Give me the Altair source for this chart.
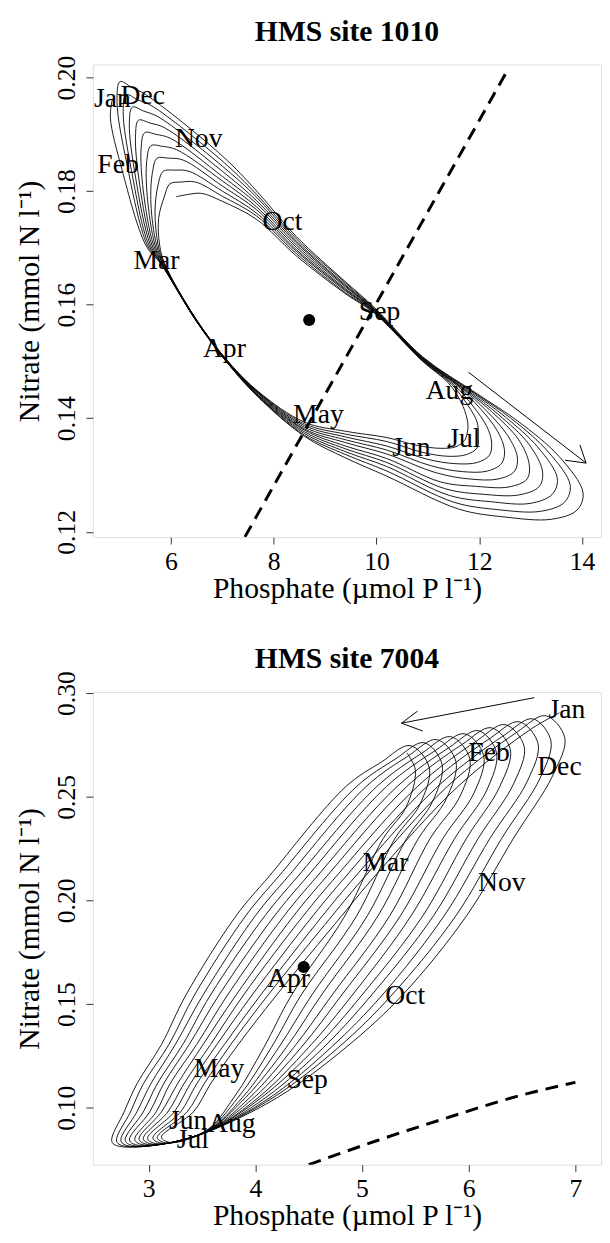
import altair as alt
import pandas as pd

FONT = "Liberation Serif"
MONTHS = ["Jan", "Feb", "Mar", "Apr", "May", "Jun", "Jul", "Aug", "Sep", "Oct", "Nov", "Dec"]
X_TITLE = "Phosphate (\u00b5mol P l\u207b\u00b9)"
Y_TITLE = "Nitrate (mmol N l\u207b\u00b9)"
PLOT_W = 515
PLOT_H = 479

# ================= HMS site 1010 : spiral stations (one value per revolution, inner -> outer)
A_TIP_X = [6.10, 5.98, 5.85, 5.73, 5.61, 5.49, 5.37, 5.25, 5.13, 5.01]
A_TIP_Y = [0.1790, 0.1813, 0.1835, 0.1858, 0.1880, 0.1903, 0.1925, 0.1948, 0.1970, 0.1993]
A_T1_X = [6.32, 6.20, 6.07, 5.95, 5.83, 5.71, 5.59, 5.47, 5.35, 5.23]
A_T1_Y = [0.1794, 0.1816, 0.1837, 0.1858, 0.1879, 0.1900, 0.1920, 0.1941, 0.1961, 0.1983]
A_DEC_X = [6.60, 6.48, 6.35, 6.23, 6.11, 5.99, 5.87, 5.75, 5.63, 5.51]
A_DEC_Y = [0.1796, 0.1816, 0.1835, 0.1855, 0.1873, 0.1893, 0.1912, 0.1931, 0.1950, 0.1970]
A_NOV_X = [7.00, 7.00, 7.00, 7.00, 7.00, 7.00, 7.00, 7.00, 7.00, 7.00]
A_NOV_Y = [0.1782, 0.1791, 0.1800, 0.1809, 0.1818, 0.1826, 0.1835, 0.1844, 0.1853, 0.1862]
A_OC1_X = [7.67, 7.67, 7.67, 7.67, 7.67, 7.67, 7.67, 7.67, 7.67, 7.67]
A_OC1_Y = [0.1750, 0.1756, 0.1761, 0.1767, 0.1772, 0.1778, 0.1783, 0.1789, 0.1794, 0.1800]
A_OC2_X = [8.44, 8.44, 8.44, 8.44, 8.44, 8.44, 8.44, 8.44, 8.44, 8.44]
A_OC2_Y = [0.1686, 0.1690, 0.1694, 0.1697, 0.1701, 0.1705, 0.1709, 0.1712, 0.1716, 0.1720]
A_SP1_X = [9.40, 9.40, 9.40, 9.40, 9.40, 9.40, 9.40, 9.40, 9.40, 9.40]
A_SP1_Y = [0.1619, 0.1621, 0.1624, 0.1626, 0.1628, 0.1631, 0.1633, 0.1635, 0.1638, 0.1640]
A_SP2_X = [9.96, 9.96, 9.96, 9.96, 9.96, 9.96, 9.96, 9.96, 9.96, 9.96]
A_SP2_Y = [0.1585, 0.1586, 0.1587, 0.1588, 0.1589, 0.1590, 0.1591, 0.1592, 0.1593, 0.1595]
A_AUG_X = [10.90, 10.90, 10.90, 10.90, 10.90, 10.90, 10.90, 10.90, 10.90, 10.90]
A_AUG_Y = [0.1500, 0.1501, 0.1502, 0.1503, 0.1504, 0.1504, 0.1505, 0.1506, 0.1507, 0.1508]
A_UA_X = [11.40, 11.46, 11.52, 11.59, 11.65, 11.71, 11.77, 11.84, 11.90, 11.96]
A_UA_Y = [0.1462, 0.1460, 0.1458, 0.1456, 0.1454, 0.1451, 0.1449, 0.1447, 0.1445, 0.1443]
A_UB_X = [11.65, 11.77, 11.89, 12.02, 12.14, 12.26, 12.38, 12.51, 12.63, 12.75]
A_UB_Y = [0.1428, 0.1424, 0.1420, 0.1417, 0.1413, 0.1410, 0.1406, 0.1402, 0.1399, 0.1395]
A_UC_X = [11.76, 11.96, 12.15, 12.35, 12.55, 12.76, 12.96, 13.15, 13.35, 13.55]
A_UC_Y = [0.1400, 0.1393, 0.1385, 0.1378, 0.1370, 0.1363, 0.1355, 0.1348, 0.1340, 0.1333]
A_UD_X = [11.78, 11.98, 12.24, 12.49, 12.74, 12.97, 13.23, 13.52, 13.77, 14.02]
A_UD_Y = [0.1383, 0.1370, 0.1358, 0.1345, 0.1332, 0.1320, 0.1307, 0.1294, 0.1282, 0.1269]
A_UE_X = [11.72, 11.96, 12.20, 12.44, 12.69, 12.93, 13.17, 13.42, 13.66, 13.90]
A_UE_Y = [0.1362, 0.1348, 0.1335, 0.1321, 0.1307, 0.1293, 0.1280, 0.1266, 0.1252, 0.1238]
A_UF_X = [11.55, 11.75, 11.96, 12.16, 12.37, 12.58, 12.78, 12.99, 13.19, 13.40]
A_UF_Y = [0.1350, 0.1336, 0.1322, 0.1307, 0.1293, 0.1279, 0.1265, 0.1250, 0.1236, 0.1222]
A_UG_X = [11.25, 11.39, 11.53, 11.67, 11.81, 11.94, 12.08, 12.22, 12.36, 12.50]
A_UG_Y = [0.1347, 0.1333, 0.1320, 0.1306, 0.1293, 0.1280, 0.1266, 0.1253, 0.1239, 0.1226]
A_UH_X = [10.80, 10.89, 10.98, 11.07, 11.16, 11.24, 11.33, 11.42, 11.51, 11.60]
A_UH_Y = [0.1352, 0.1340, 0.1328, 0.1316, 0.1304, 0.1288, 0.1276, 0.1264, 0.1252, 0.1240]
A_B2_X = [10.20, 10.20, 10.20, 10.20, 10.20, 10.20, 10.20, 10.20, 10.20, 10.20]
A_B2_Y = [0.1366, 0.1359, 0.1351, 0.1344, 0.1337, 0.1329, 0.1322, 0.1315, 0.1307, 0.1298]
A_B25_X = [9.40, 9.40, 9.40, 9.40, 9.40, 9.40, 9.40, 9.40, 9.40, 9.40]
A_B25_Y = [0.1377, 0.1372, 0.1367, 0.1362, 0.1357, 0.1351, 0.1346, 0.1341, 0.1336, 0.1330]
A_B3_X = [8.60, 8.60, 8.60, 8.60, 8.60, 8.60, 8.60, 8.60, 8.60, 8.60]
A_B3_Y = [0.1393, 0.1390, 0.1387, 0.1384, 0.1381, 0.1379, 0.1376, 0.1373, 0.1370, 0.1368]
A_B4_X = [7.70, 7.70, 7.70, 7.70, 7.70, 7.70, 7.70, 7.70, 7.70, 7.70]
A_B4_Y = [0.1447, 0.1446, 0.1445, 0.1444, 0.1443, 0.1441, 0.1440, 0.1439, 0.1438, 0.1437]
A_APR_X = [7.12, 7.12, 7.12, 7.12, 7.12, 7.12, 7.12, 7.12, 7.12, 7.12]
A_APR_Y = [0.1499, 0.1499, 0.1498, 0.1498, 0.1497, 0.1497, 0.1496, 0.1496, 0.1495, 0.1495]
A_MID_X = [6.50, 6.50, 6.50, 6.50, 6.50, 6.50, 6.50, 6.50, 6.50, 6.50]
A_MID_Y = [0.1573, 0.1573, 0.1572, 0.1572, 0.1572, 0.1571, 0.1571, 0.1571, 0.1570, 0.1570]
A_MAR_X = [5.88, 5.87, 5.86, 5.85, 5.84, 5.83, 5.82, 5.82, 5.81, 5.80]
A_MAR_Y = [0.1672, 0.1672, 0.1672, 0.1672, 0.1672, 0.1672, 0.1672, 0.1672, 0.1672, 0.1672]
A_L1_X = [5.78, 5.75, 5.72, 5.69, 5.66, 5.63, 5.60, 5.57, 5.54, 5.51]
A_L1_Y = [0.1705, 0.1705, 0.1705, 0.1705, 0.1705, 0.1705, 0.1705, 0.1705, 0.1705, 0.1705]
A_L2_X = [5.76, 5.69, 5.61, 5.54, 5.46, 5.39, 5.31, 5.23, 5.14, 5.05]
A_L2_Y = [0.1752, 0.1765, 0.1778, 0.1790, 0.1802, 0.1812, 0.1825, 0.1837, 0.1849, 0.1837]
A_L3_X = [5.87, 5.75, 5.64, 5.53, 5.42, 5.31, 5.19, 5.07, 4.95, 4.82]
A_L3_Y = [0.1790, 0.1811, 0.1833, 0.1854, 0.1876, 0.1897, 0.1919, 0.1940, 0.1958, 0.1930]
A_END = [4.86, 0.1962]

A_LAB_X = [4.86, 4.97, 5.72, 7.04, 8.87, 10.68, 11.71, 11.42, 10.06, 8.17, 6.54, 5.45]
A_LAB_Y = [0.1962, 0.1846, 0.1677, 0.1521, 0.1405, 0.1347, 0.1363, 0.1447, 0.1587, 0.1746, 0.1892, 0.1968]
A_MEAN = [8.69, 0.1573]
A_START = [11.41, 0.1350]
A_DASH_X = [7.44, 12.55]
A_DASH_Y = [0.1191, 0.2013]
A_ARR_X = [11.79, 14.08, 14.08]
A_ARR_Y = [0.1481, 0.1321, 0.1321]
A_ARR_X2 = [14.08, 13.67, 13.96]
A_ARR_Y2 = [0.1321, 0.1326, 0.1353]
A_XTICKS = [6, 8, 10, 12, 14]
A_YTICKS = [0.12, 0.14, 0.16, 0.18, 0.20]
A_XDOM = [4.48, 14.37]
A_YDOM = [0.11905, 0.2023]

# ================= HMS site 7004 : spiral stations (one value per revolution, right -> left)
B_P_X = [6.85, 6.72, 6.60, 6.47, 6.34, 6.21, 6.09, 5.96, 5.83, 5.70, 5.58, 5.45]
B_P_Y = [0.2905, 0.2891, 0.2876, 0.2862, 0.2848, 0.2833, 0.2819, 0.2804, 0.2790, 0.2776, 0.2761, 0.2747]
B_LA_X = [6.58, 6.45, 6.33, 6.20, 6.07, 5.94, 5.82, 5.69, 5.56, 5.43, 5.31, 5.18]
B_LA_Y = [0.2825, 0.2811, 0.2796, 0.2782, 0.2768, 0.2753, 0.2739, 0.2724, 0.2710, 0.2696, 0.2681, 0.2667]
B_LB_X = [5.90, 5.80, 5.71, 5.61, 5.52, 5.42, 5.33, 5.23, 5.14, 5.04, 4.95, 4.85]
B_LB_Y = [0.2550, 0.2550, 0.2550, 0.2550, 0.2550, 0.2550, 0.2550, 0.2550, 0.2550, 0.2550, 0.2550, 0.2550]
B_LC_X = [5.12, 5.03, 4.94, 4.85, 4.76, 4.67, 4.58, 4.49, 4.40, 4.31, 4.22, 4.13]
B_LC_Y = [0.2117, 0.2117, 0.2117, 0.2117, 0.2117, 0.2117, 0.2117, 0.2117, 0.2117, 0.2117, 0.2117, 0.2117]
B_LD_X = [4.81, 4.72, 4.63, 4.54, 4.45, 4.36, 4.27, 4.18, 4.09, 4.00, 3.91, 3.82]
B_LD_Y = [0.1926, 0.1926, 0.1926, 0.1926, 0.1926, 0.1926, 0.1926, 0.1926, 0.1926, 0.1926, 0.1926, 0.1926]
B_LE_X = [4.20, 4.12, 4.05, 3.97, 3.89, 3.82, 3.74, 3.66, 3.58, 3.51, 3.43, 3.35]
B_LE_Y = [0.1544, 0.1544, 0.1544, 0.1544, 0.1544, 0.1544, 0.1544, 0.1544, 0.1544, 0.1544, 0.1544, 0.1544]
B_LF_X = [3.84, 3.77, 3.71, 3.64, 3.58, 3.51, 3.45, 3.38, 3.32, 3.25, 3.19, 3.12]
B_LF_Y = [0.1305, 0.1305, 0.1305, 0.1305, 0.1305, 0.1305, 0.1305, 0.1305, 0.1305, 0.1305, 0.1305, 0.1305]
B_LG_X = [3.58, 3.52, 3.45, 3.39, 3.33, 3.27, 3.20, 3.14, 3.08, 3.02, 2.95, 2.89]
B_LG_Y = [0.1115, 0.1115, 0.1115, 0.1115, 0.1115, 0.1115, 0.1115, 0.1115, 0.1115, 0.1115, 0.1115, 0.1115]
B_LH_X = [3.42, 3.36, 3.30, 3.24, 3.18, 3.12, 3.07, 3.01, 2.95, 2.89, 2.83, 2.77]
B_LH_Y = [0.0980, 0.0980, 0.0980, 0.0980, 0.0980, 0.0980, 0.0980, 0.0980, 0.0980, 0.0980, 0.0980, 0.0980]
B_TIP_X = [3.12, 3.08, 3.04, 2.99, 2.95, 2.91, 2.87, 2.82, 2.78, 2.74, 2.70, 2.655]
B_TIP_Y = [0.0858, 0.0856, 0.0854, 0.0852, 0.0850, 0.0848, 0.0846, 0.0844, 0.0842, 0.0840, 0.0838, 0.0836]
B_BOT_X = [3.21, 3.17, 3.13, 3.08, 3.04, 3.00, 2.96, 2.91, 2.87, 2.83, 2.79, 2.745]
B_BOT_Y = [0.0832, 0.0830, 0.0828, 0.0826, 0.0824, 0.0822, 0.0820, 0.0818, 0.0816, 0.0814, 0.0813, 0.0812]
B_CV_X = [3.56, 3.56, 3.55, 3.55, 3.54, 3.54, 3.53, 3.53, 3.52, 3.52, 3.51, 3.51]
B_CV_Y = [0.0885, 0.0885, 0.0884, 0.0884, 0.0883, 0.0883, 0.0882, 0.0882, 0.0881, 0.0881, 0.0880, 0.0880]
B_RA_X = [4.21, 4.17, 4.14, 4.10, 4.06, 4.03, 3.99, 3.95, 3.91, 3.88, 3.84, 3.80]
B_RA_Y = [0.1050, 0.1050, 0.1050, 0.1050, 0.1050, 0.1050, 0.1050, 0.1050, 0.1050, 0.1050, 0.1050, 0.1050]
B_RB_X = [4.85, 4.78, 4.71, 4.64, 4.57, 4.50, 4.43, 4.36, 4.29, 4.22, 4.15, 4.08]
B_RB_Y = [0.1291, 0.1291, 0.1291, 0.1291, 0.1291, 0.1291, 0.1291, 0.1291, 0.1291, 0.1291, 0.1291, 0.1291]
B_RC_X = [5.38, 5.28, 5.19, 5.09, 5.00, 4.91, 4.81, 4.72, 4.62, 4.53, 4.43, 4.34]
B_RC_Y = [0.1544, 0.1544, 0.1544, 0.1544, 0.1544, 0.1544, 0.1544, 0.1544, 0.1544, 0.1544, 0.1544, 0.1544]
B_RD_X = [5.98, 5.88, 5.77, 5.67, 5.57, 5.46, 5.36, 5.26, 5.15, 5.05, 4.95, 4.84]
B_RD_Y = [0.1926, 0.1926, 0.1926, 0.1926, 0.1926, 0.1926, 0.1926, 0.1926, 0.1926, 0.1926, 0.1926, 0.1926]
B_RE_X = [6.42, 6.31, 6.20, 6.09, 5.98, 5.87, 5.76, 5.64, 5.53, 5.42, 5.31, 5.20]
B_RE_Y = [0.2300, 0.2300, 0.2300, 0.2300, 0.2300, 0.2300, 0.2300, 0.2300, 0.2300, 0.2300, 0.2300, 0.2300]
B_RF_X = [6.79, 6.67, 6.55, 6.42, 6.29, 6.17, 6.05, 5.92, 5.79, 5.66, 5.54, 5.41]
B_RF_Y = [0.2605, 0.2591, 0.2576, 0.2562, 0.2548, 0.2533, 0.2519, 0.2504, 0.2490, 0.2476, 0.2461, 0.2447]
B_RG_X = [6.90, 6.77, 6.65, 6.52, 6.39, 6.26, 6.14, 6.01, 5.88, 5.75, 5.63, 5.50]
B_RG_Y = [0.2785, 0.2771, 0.2756, 0.2742, 0.2728, 0.2713, 0.2699, 0.2684, 0.2670, 0.2656, 0.2641, 0.2627]
B_END = [5.42, 0.2712]

B_LAB_X = [6.92, 6.19, 5.22, 4.31, 3.66, 3.37, 3.415, 3.78, 4.485, 5.405, 6.31, 6.85]
B_LAB_Y = [0.2916, 0.2710, 0.2179, 0.1620, 0.1186, 0.0933, 0.0844, 0.0920, 0.1131, 0.1540, 0.2083, 0.2642]
B_MEAN = [4.453, 0.1679]
B_DASH_X = [4.50, 5.15, 5.77, 6.54, 7.00]
B_DASH_Y = [0.0725, 0.0843, 0.0947, 0.1067, 0.1122]
B_ARR_X = [6.615, 5.37, 5.37]
B_ARR_Y = [0.2978, 0.2855, 0.2855]
B_ARR_X2 = [5.37, 5.52, 5.57]
B_ARR_Y2 = [0.2855, 0.2913, 0.2817]
B_XTICKS = [3, 4, 5, 6, 7]
B_YTICKS = [0.10, 0.15, 0.20, 0.25, 0.30]
B_XDOM = [2.477, 7.24]
B_YDOM = [0.0725, 0.3005]

A_STATIONS = [
    (A_TIP_X, A_TIP_Y), (A_T1_X, A_T1_Y), (A_DEC_X, A_DEC_Y), (A_NOV_X, A_NOV_Y),
    (A_OC1_X, A_OC1_Y), (A_OC2_X, A_OC2_Y), (A_SP1_X, A_SP1_Y), (A_SP2_X, A_SP2_Y),
    (A_AUG_X, A_AUG_Y), (A_UA_X, A_UA_Y), (A_UB_X, A_UB_Y), (A_UC_X, A_UC_Y),
    (A_UD_X, A_UD_Y), (A_UE_X, A_UE_Y), (A_UF_X, A_UF_Y), (A_UG_X, A_UG_Y),
    (A_UH_X, A_UH_Y), (A_B2_X, A_B2_Y), (A_B25_X, A_B25_Y), (A_B3_X, A_B3_Y),
    (A_B4_X, A_B4_Y), (A_APR_X, A_APR_Y), (A_MID_X, A_MID_Y), (A_MAR_X, A_MAR_Y),
    (A_L1_X, A_L1_Y), (A_L2_X, A_L2_Y), (A_L3_X, A_L3_Y),
]
B_STATIONS = [
    (B_P_X, B_P_Y), (B_LA_X, B_LA_Y), (B_LB_X, B_LB_Y), (B_LC_X, B_LC_Y),
    (B_LD_X, B_LD_Y), (B_LE_X, B_LE_Y), (B_LF_X, B_LF_Y), (B_LG_X, B_LG_Y),
    (B_LH_X, B_LH_Y), (B_TIP_X, B_TIP_Y), (B_BOT_X, B_BOT_Y), (B_CV_X, B_CV_Y),
    (B_RA_X, B_RA_Y), (B_RB_X, B_RB_Y), (B_RC_X, B_RC_Y), (B_RD_X, B_RD_Y),
    (B_RE_X, B_RE_Y), (B_RF_X, B_RF_Y), (B_RG_X, B_RG_Y),
]


def spiral_frame(stations, end):
    xs, ys = [], []
    for k in range(len(stations[0][0])):
        for sx, sy in stations:
            xs.append(sx[k])
            ys.append(sy[k])
    xs.append(end[0])
    ys.append(end[1])
    return pd.DataFrame({"x": xs, "y": ys, "o": list(range(len(xs)))})


def panel(title, stations, end, lab_x, lab_y, mean, dash_x, dash_y,
          arr_x, arr_y, arr_x2, arr_y2, xticks, yticks, xdom, ydom, extra_pts=None):
    X = alt.X("x:Q", scale=alt.Scale(domain=xdom, nice=False, zero=False),
              axis=alt.Axis(values=xticks, format="d", title=X_TITLE, grid=False, domain=False,
                            tickSize=7, tickColor="#333", labelFont=FONT, labelFontSize=26,
                            labelColor="black", labelBaseline="alphabetic", labelPadding=25.5,
                            labelFlush=False, labelOverlap=False, titleFont=FONT, titleFontSize=30,
                            titleFontWeight="normal", titleColor="black",
                            titleBaseline="alphabetic", titleY=61))
    Y = alt.Y("y:Q", scale=alt.Scale(domain=ydom, nice=False, zero=False),
              axis=alt.Axis(values=yticks, format=".2f", title=Y_TITLE, grid=False, domain=False,
                            tickSize=7, tickColor="#333", labelFont=FONT, labelFontSize=26,
                            labelColor="black", labelAngle=270, labelAlign="center",
                            labelBaseline="alphabetic", labelPadding=12, labelFlush=False,
                            labelOverlap=False, titleFont=FONT, titleFontSize=30,
                            titleFontWeight="normal", titleColor="black", titleAngle=270,
                            titleBaseline="alphabetic", titleX=-55))

    spiral = alt.Chart(spiral_frame(stations, end)).mark_line(
        interpolate="catmull-rom", color="black", strokeWidth=0.9, clip=True
    ).encode(X, Y, order="o:Q")

    dash = alt.Chart(pd.DataFrame({"x": dash_x, "y": dash_y, "o": list(range(len(dash_x)))})).mark_line(
        interpolate="monotone", color="black", strokeWidth=3, strokeDash=[13, 8], clip=True
    ).encode(X, Y, order="o:Q")

    arrow = alt.Chart(pd.DataFrame({"x": arr_x, "y": arr_y, "x2": arr_x2, "y2": arr_y2})).mark_rule(
        color="black", strokeWidth=1
    ).encode(X, Y, x2="x2:Q", y2="y2:Q")

    dot = alt.Chart(pd.DataFrame({"x": [mean[0]], "y": [mean[1]]})).mark_circle(
        size=150, color="black", opacity=1
    ).encode(X, Y)

    labels = alt.Chart(pd.DataFrame({"x": lab_x, "y": lab_y, "t": MONTHS})).mark_text(
        font=FONT, fontSize=28, color="black", align="center", baseline="middle"
    ).encode(X, Y, text="t:N")

    head = alt.Chart(pd.DataFrame({"t": [title]})).mark_text(
        font=FONT, fontSize=30, fontWeight="bold", color="black", align="center",
        baseline="alphabetic"
    ).encode(x=alt.value(PLOT_W / 2), y=alt.value(-24), text="t:N")

    layers = [spiral, dash, arrow, dot, labels, head]
    if extra_pts is not None:
        layers.append(alt.Chart(pd.DataFrame({"x": [extra_pts[0]], "y": [extra_pts[1]]})).mark_circle(
            size=10, color="black", opacity=1).encode(X, Y))

    return alt.layer(*layers).properties(width=PLOT_W, height=PLOT_H)


p1 = panel("HMS site 1010", A_STATIONS, A_END, A_LAB_X, A_LAB_Y, A_MEAN, A_DASH_X, A_DASH_Y,
           A_ARR_X, A_ARR_Y, A_ARR_X2, A_ARR_Y2, A_XTICKS, A_YTICKS, A_XDOM, A_YDOM, A_START)
p2 = panel("HMS site 7004", B_STATIONS, B_END, B_LAB_X, B_LAB_Y, B_MEAN, B_DASH_X, B_DASH_Y,
           B_ARR_X, B_ARR_Y, B_ARR_X2, B_ARR_Y2, B_XTICKS, B_YTICKS, B_XDOM, B_YDOM)

chart = alt.vconcat(p1, p2, spacing=40).properties(
    padding={"left": 6, "top": 0, "right": 0, "bottom": 0}
).configure_view(stroke="#333", strokeWidth=1).configure(background="white")

chart.save("out.html", embed_options={"renderer": "svg", "actions": False})
